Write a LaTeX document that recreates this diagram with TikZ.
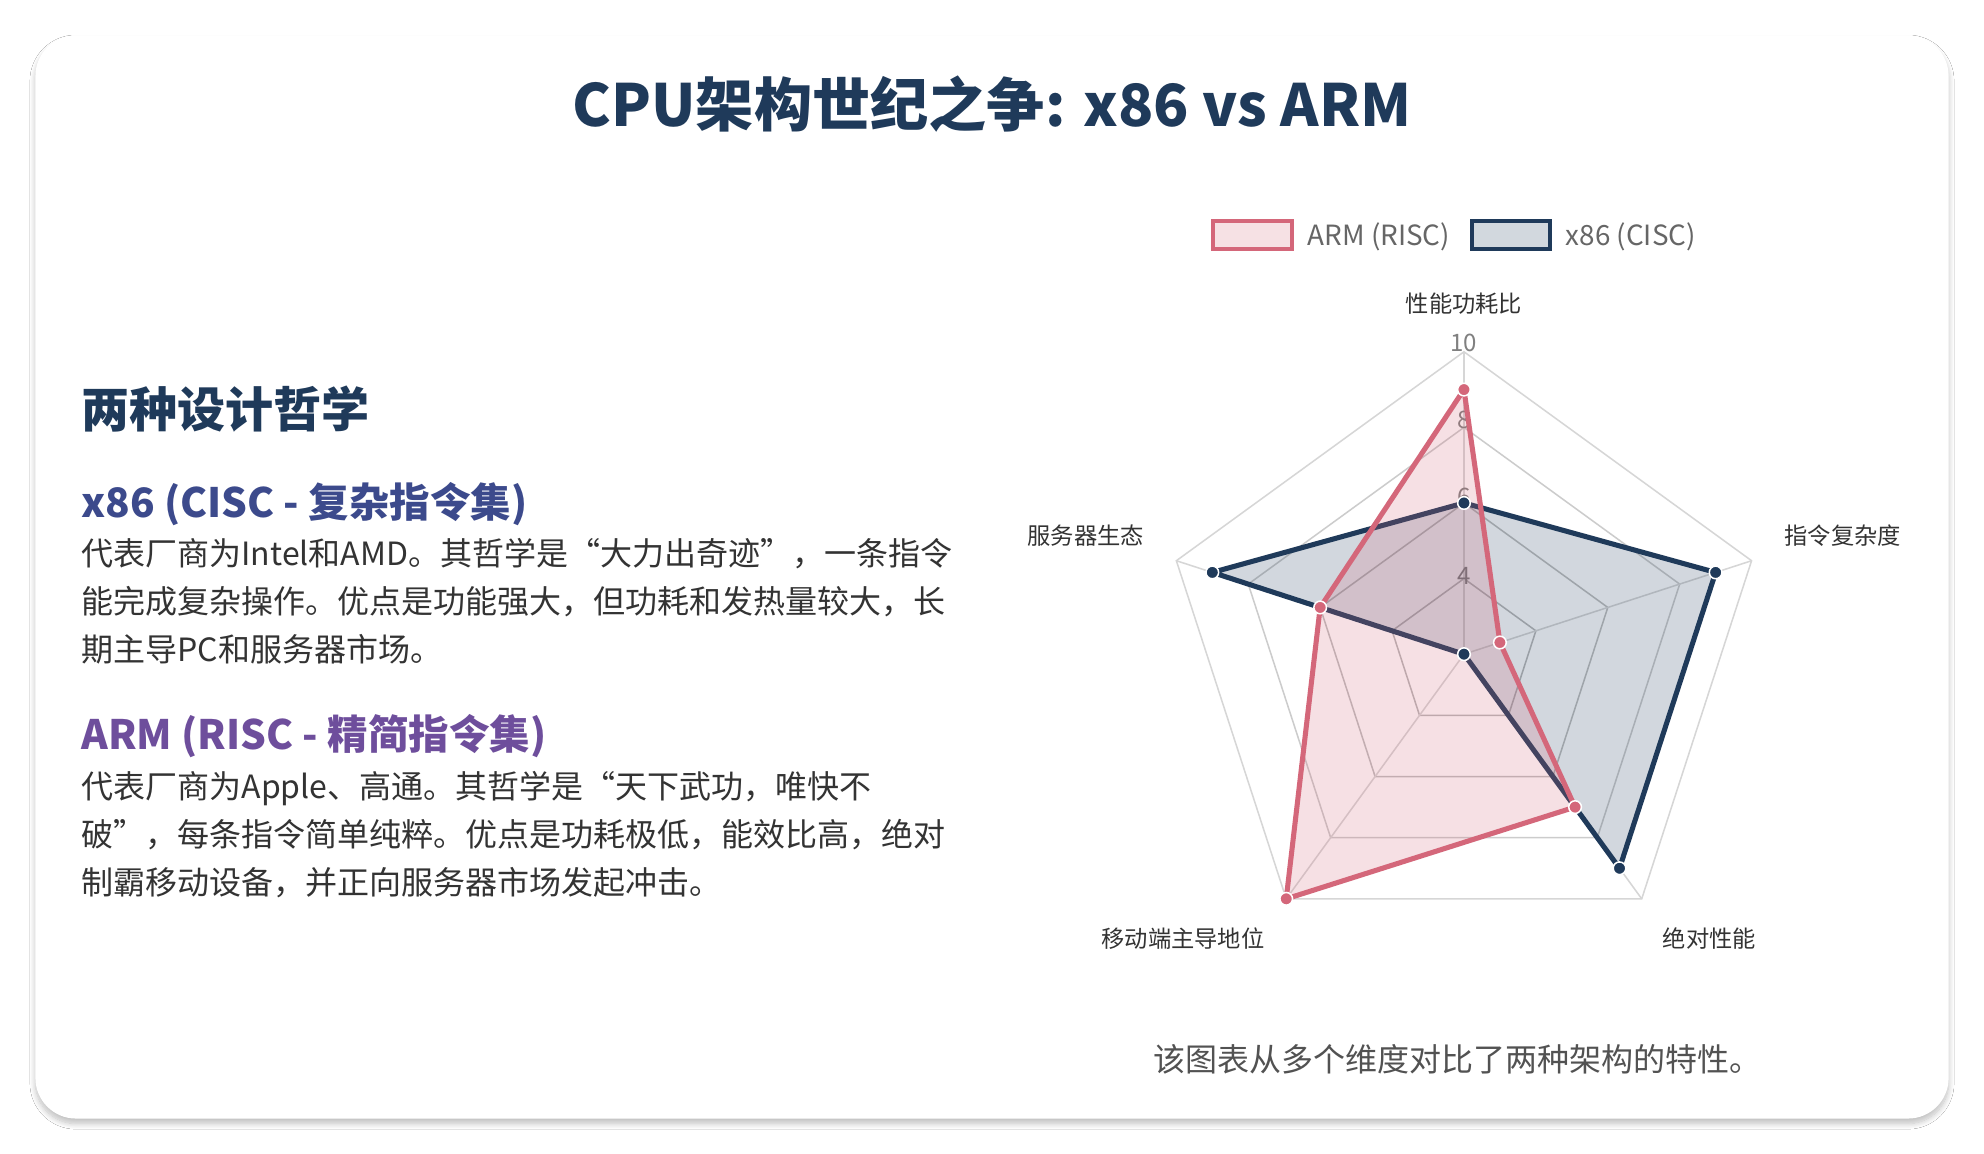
\documentclass[tikz,border=0pt]{standalone}
\usepackage{fontspec}
\setmainfont{Noto Sans CJK SC}
\usetikzlibrary{shadows.blur}
\definecolor{navy}{HTML}{1F3A5A}
\definecolor{armc}{HTML}{D4677A}
\definecolor{xhead}{HTML}{3C4A8C}
\definecolor{ahead}{HTML}{6E4E9C}
\definecolor{body}{HTML}{333333}
\definecolor{gridc}{HTML}{D6D6D6}
\tikzset{
 body/.style={anchor=base west,inner sep=0,font=\fontsize{12.65}{14}\selectfont,text=body},
 head/.style={anchor=base west,inner sep=0,font=\fontsize{16}{18}\selectfont\bfseries},
 axl/.style={font=\fontsize{9.2}{11}\selectfont,text=body,inner sep=0},
 tick/.style={font=\fontsize{9.5}{10}\selectfont,text=gray,inner sep=0},
 dotA/.style={circle,fill=armc,draw=white,line width=0.6pt,inner sep=0,minimum size=5pt},
 dotX/.style={circle,fill=navy,draw=white,line width=0.6pt,inner sep=0,minimum size=5pt},
}
\begin{document}
\begin{tikzpicture}[x=0.5pt,y=-0.5pt]
\useasboundingbox (0,0) rectangle (1568,912);
\fill[white] (0,0) rectangle (1568,912);
\node[draw=none,fill=white,rounded corners=16pt,blur shadow={shadow blur steps=10,shadow xshift=0pt,shadow yshift=-2pt,shadow opacity=25},minimum width=756pt,minimum height=428pt,inner sep=0] (card) at (784,456) {};
\node[font=\fontsize{23}{27}\selectfont\bfseries,text=navy] (title) at (784,82) {CPU架构世纪之争: x86 vs ARM};
\node[font=\fontsize{19}{22}\selectfont\bfseries,text=navy,anchor=base west,inner sep=0] (h1) at (64,338) {两种设计哲学};
\node[head,text=xhead] (h2) at (64,409) {x86 (CISC - 复杂指令集)};
\node[body] (b1) at (64,447) {代表厂商为Intel和AMD。其哲学是“大力出奇迹”，一条指令};
\node[body] (b2) at (64,485) {能完成复杂操作。优点是功能强大，但功耗和发热量较大，长};
\node[body] (b3) at (64,523) {期主导PC和服务器市场。};
\node[head,text=ahead] (h3) at (64,592) {ARM (RISC - 精简指令集)};
\node[body] (c1) at (64,631) {代表厂商为Apple、高通。其哲学是“天下武功，唯快不};
\node[body] (c2) at (64,669) {破”，每条指令简单纯粹。优点是功耗极低，能效比高，绝对};
\node[body] (c3) at (64,707) {制霸移动设备，并正向服务器市场发起冲击。};
% legend
\node[draw=armc,fill=armc!20,line width=1.6pt,minimum width=31pt,minimum height=11pt,inner sep=0] (la) at (990,186) {};
\node[anchor=west,inner sep=0,font=\fontsize{11}{13}\selectfont,text=gray!80!black] (lat) at (1033,187) {ARM (RISC)};
\node[draw=navy,fill=navy!20,line width=1.6pt,minimum width=31pt,minimum height=11pt,inner sep=0] (lx) at (1194,186) {};
\node[anchor=west,inner sep=0,font=\fontsize{11}{13}\selectfont,text=gray!80!black] (lxt) at (1237,187) {x86 (CISC)};
% radar
\begin{scope}[shift={(1157,517)},y=0.5pt]
\def\R{239}
\foreach \f/\c in {0.25/gray!55,0.5/gray!50,0.75/gray!40,1/gridc}
  \draw[\c,line width=0.6pt] (90:\f*\R) -- (18:\f*\R) -- (-54:\f*\R) -- (-126:\f*\R) -- (162:\f*\R) -- cycle;
\foreach \a in {90,18,-54,-126,162} \draw[gridc,line width=0.6pt] (0,0) -- (\a:\R);
\foreach \v/\yy in {4/62,6/124,8/185,10/246} \node[tick] at (0,\yy) {\v};
\coordinate (a1) at (90:7/8*\R); \coordinate (a2) at (18:1/8*\R);
\coordinate (a3) at (-54:5/8*\R); \coordinate (a4) at (-126:\R); \coordinate (a5) at (162:4/8*\R);
\coordinate (x1) at (90:4/8*\R); \coordinate (x2) at (18:7/8*\R);
\coordinate (x3) at (-54:7/8*\R); \coordinate (x4) at (0,0); \coordinate (x5) at (162:7/8*\R);
\draw[navy,line width=2pt,fill=navy,fill opacity=0.2,line join=round] (x1)--(x2)--(x3)--(x4)--(x5)--cycle;
\draw[armc,line width=2pt,fill=armc,fill opacity=0.2,line join=round] (a1)--(a2)--(a3)--(a4)--(a5)--cycle;
\foreach \p in {x1,x2,x3,x4,x5} \node[dotX] at (\p) {};
\foreach \p in {a1,a2,a3,a4,a5} \node[dotA] at (\p) {};
\node[axl] (t1) at (0,277) {性能功耗比};
\node[axl,anchor=west] (t2) at (253,94) {指令复杂度};
\node[axl] (t3) at (194,-225) {绝对性能};
\node[axl] (t4) at (-222,-225) {移动端主导地位};
\node[axl] (t5) at (-299,94) {服务器生态};
\end{scope}
\node[font=\fontsize{12.65}{14}\selectfont,text=body!85!white] (cap) at (1152,837) {该图表从多个维度对比了两种架构的特性。};
\end{tikzpicture}
\end{document}
